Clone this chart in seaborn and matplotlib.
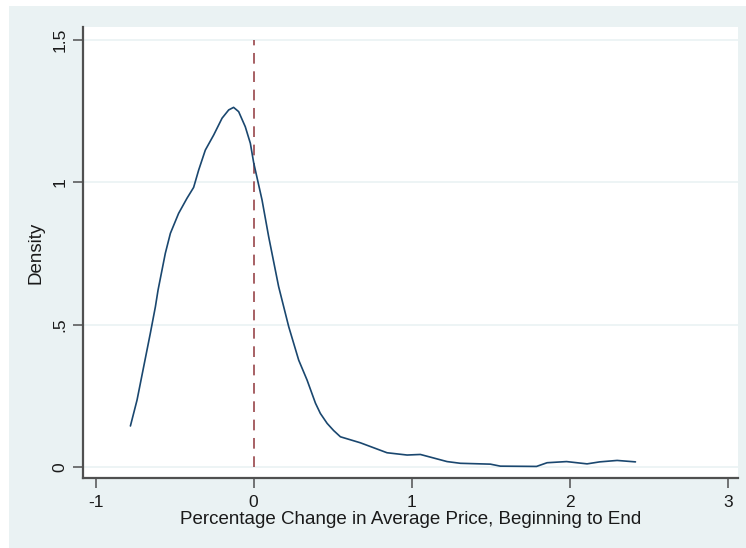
import matplotlib
matplotlib.use("Agg")
import matplotlib.pyplot as plt
import seaborn as sns
import pandas as pd
from matplotlib.patches import Rectangle

# Kernel density estimate of the percentage change in average price
pct_change = [-0.780, -0.738, -0.696, -0.654, -0.622, -0.605, -0.559, -0.527,
              -0.475, -0.422, -0.380, -0.348, -0.306, -0.253, -0.200, -0.158,
              -0.127, -0.095, -0.053, -0.021, 0.000, 0.053, 0.095, 0.158,
              0.222, 0.285, 0.338, 0.391, 0.422, 0.465, 0.506, 0.549, 0.675,
              0.844, 0.971, 1.055, 1.224, 1.308, 1.498, 1.561, 1.790, 1.857,
              1.980, 2.110, 2.190, 2.300, 2.416]
density = [0.144, 0.235, 0.352, 0.469, 0.562, 0.621, 0.750, 0.820,
           0.890, 0.943, 0.981, 1.042, 1.112, 1.165, 1.224, 1.253,
           1.262, 1.247, 1.194, 1.136, 1.068, 0.937, 0.808, 0.633,
           0.492, 0.375, 0.305, 0.224, 0.188, 0.153, 0.128, 0.106, 0.085,
           0.050, 0.042, 0.044, 0.019, 0.013, 0.010, 0.003, 0.002, 0.015,
           0.019, 0.011, 0.018, 0.023, 0.018]

x_ticks = [-1, 0, 1, 2, 3]
x_tick_labels = ["-1", "0", "1", "2", "3"]
y_ticks = [0, 0.5, 1, 1.5]
y_tick_labels = ["0", ".5", "1", "1.5"]

df = pd.DataFrame({"x": pct_change, "density": density})

sns.set_theme(style="white")
plt.rcParams["font.family"] = ["Liberation Sans", "DejaVu Sans"]

BG = "#EAF2F3"
AXIS = "#505050"

fig = plt.figure(figsize=(7.46, 5.48), dpi=100, facecolor="white")
fig.patches.append(Rectangle((9 / 746, 0), 1 - 9 / 746, 1 - 6 / 548,
                             transform=fig.transFigure, facecolor=BG,
                             edgecolor="none", zorder=-10))
ax = fig.add_axes([83 / 746, 1 - 478 / 548, (738 - 83) / 746, (478 - 27) / 548])
ax.set_facecolor("white")

# horizontal grid
for yv in y_ticks:
    ax.axhline(yv, color=BG, lw=1.2, zorder=1)

# reference line at zero change
ax.vlines(0, 0, 1.5, colors="#90353B", linestyles=(0, (7, 5)), lw=1.1, zorder=2)

sns.lineplot(data=df, x="x", y="density", ax=ax, color="#1A476F", lw=1.2,
             estimator=None, sort=False, zorder=3)

ax.set_xlim(-1.08, 3.065)
ax.set_ylim(-0.0386, 1.544)
ax.set_xticks(x_ticks)
ax.set_xticklabels(x_tick_labels, fontsize=12.5, color="#1a1a1a")
ax.set_yticks(y_ticks)
ax.set_yticklabels(y_tick_labels, fontsize=12.5, color="#1a1a1a",
                   rotation=90, va="center")
ax.tick_params(axis="both", direction="out", length=7, width=1.1,
               color=AXIS, pad=4, left=True, bottom=True)
ax.tick_params(axis="x", pad=5)

ax.set_xlabel("Percentage Change in Average Price, Beginning to End",
              fontsize=13.5, color="#1a1a1a", labelpad=1)
ax.set_ylabel("Density", fontsize=13.5, color="#1a1a1a", labelpad=6)

for side in ["top", "right"]:
    ax.spines[side].set_visible(False)
for side in ["left", "bottom"]:
    ax.spines[side].set_color(AXIS)
    ax.spines[side].set_linewidth(1.6)

fig.savefig("out.png", dpi=100, facecolor="white")
